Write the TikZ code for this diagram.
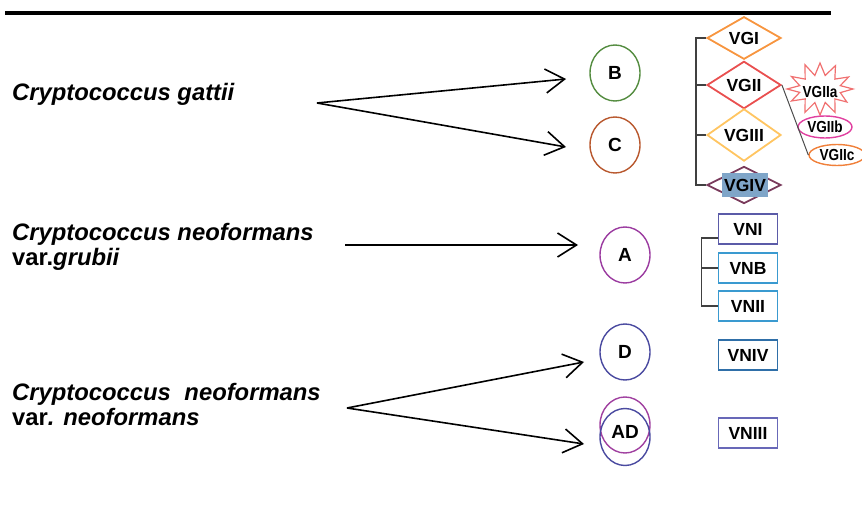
\documentclass[tikz,border=0pt]{standalone}
\usepackage{fontspec}
\setmainfont{Liberation Sans}
\newfontfamily\narrowsf[FakeStretch=0.85]{Liberation Sans}
\usetikzlibrary{shapes.geometric,arrows.meta}
\definecolor{cB}{RGB}{84,140,64}
\definecolor{cC}{RGB}{184,88,46}
\definecolor{cA}{RGB}{155,59,160}
\definecolor{cD}{RGB}{74,74,160}
\definecolor{cADp}{RGB}{160,64,160}
\definecolor{cVGI}{RGB}{247,149,63}
\definecolor{cVGII}{RGB}{233,79,79}
\definecolor{cVGIII}{RGB}{255,197,97}
\definecolor{cVGIV}{RGB}{122,59,92}
\definecolor{cHL}{RGB}{127,165,200}
\definecolor{cStar}{RGB}{240,112,112}
\definecolor{cVGIIb}{RGB}{224,64,160}
\definecolor{cVGIIc}{RGB}{240,128,58}
\definecolor{cVNI}{RGB}{91,91,168}
\definecolor{cVNB}{RGB}{58,154,208}
\definecolor{cVNIV}{RGB}{47,111,168}
\definecolor{cVNIII}{RGB}{104,104,184}
\begin{document}
\begin{tikzpicture}[x=1pt,y=-1pt,
  spec/.style={font=\fontsize{23.8}{28}\selectfont\bfseries\itshape, anchor=base west, inner sep=0pt},
  lab/.style={font=\fontsize{17.5}{20}\selectfont\bfseries},
  grp/.style={ellipse, draw, line width=1.4pt, minimum width=50pt, minimum height=56pt, inner sep=0pt, font=\fontsize{19}{22}\selectfont\bfseries},
  vg/.style={diamond, draw, line width=1.8pt, minimum width=74pt, minimum height=37pt, inner sep=0pt, lab},
  vn/.style={rectangle, draw, line width=1.6pt, minimum width=59pt, minimum height=30pt, inner sep=0pt, lab},
  sub/.style={font=\fontsize{16}{18}\narrowsf\bfseries},
  arr/.style={-{Straight Barb[length=19pt,width=24pt]}, line width=1.6pt},
  br/.style={line width=1.3pt, draw=black!75}
]
\useasboundingbox (0,0) rectangle (862,526);
\draw[line width=4.3pt] (5,13) -- (831,13);

% species labels
\node[spec] (tg) at (12,101) {Cryptococcus gattii};
\node[spec] (tn1) at (12,241) {Cryptococcus neoformans};
\node[spec] (tn2) at (12,266) {{\upshape var.}grubii};
\node[spec] (tn3) at (12,400) {Cryptococcus\hspace{7pt} neoformans};
\node[spec] (tn4) at (12,425) {{\upshape var}. neoformans};

% serotypes
\node[grp, draw=cB] (B) at (615,73) {B};
\node[grp, draw=cC] (C) at (615,145) {C};
\node[grp, draw=cA] (A) at (625,255) {A};
\node[grp, draw=cD] (D) at (625,352) {D};
\node[grp, draw=cADp] (AD1) at (625,425) {};
\node[grp, draw=cD, minimum height=57pt] (AD2) at (625,437) {};
\node[font=\fontsize{19}{22}\selectfont\bfseries] (ADt) at (625,432) {AD};

% VG diamonds
\node[vg, draw=cVGI] (VGI) at (744,38) {VGI};
\node[vg, draw=cVGII] (VGII) at (744,85) {VGII};
\node[vg, draw=cVGIII] (VGIII) at (744,135) {VGIII};
\node[vg, draw=cVGIV] (VGIV) at (744,185) {};
\node[lab, fill=cHL, minimum width=46pt, minimum height=24pt, inner sep=0pt] (VGIVt) at (745,185) {VGIV};

% VGII subtypes
\begin{scope}[shift={(820,89)}]
\draw[cStar, line width=1.2pt] (33,0)
  \foreach \a/\rx/\ry in {15/21/14,30/31/26,45/21/14,60/30/27,75/20/14,90/28/26,105/20/14,120/30/27,135/21/14,150/33/24,165/21/13,180/33/22,195/21/13,210/33/25,225/21/14,240/30/28,255/20/14,270/27/26,285/20/14,300/31/27,315/21/14,330/33/24,345/21/13}
  { -- ({\rx*cos(\a)},{\ry*sin(\a)}) } -- cycle;
\end{scope}
\node[sub] (VGIIa) at (820,92) {VGIIa};
\node[sub, ellipse, draw=cVGIIb, line width=1.4pt, minimum width=54pt, minimum height=22pt, inner sep=0pt] (VGIIb) at (825,127) {VGIIb};
\node[sub, ellipse, draw=cVGIIc, line width=1.4pt, minimum width=56pt, minimum height=21pt, inner sep=0pt] (VGIIc) at (837,155) {VGIIc};
\draw[line width=1pt, black!70] (VGII.east) -- (VGIIc.west);

% VN boxes
\node[vn, draw=cVNI] (VNI) at (748,229) {VNI};
\node[vn, draw=cVNB] (VNB) at (748,268) {VNB};
\node[vn, draw=cVNB] (VNII) at (748,306) {VNII};
\node[vn, draw=cVNIV] (VNIV) at (748,355) {VNIV};
\node[vn, draw=cVNIII] (VNIII) at (748,433) {VNIII};

% brackets
\draw[br] (VGI.west) -- ++(-10,0) |- (VGIV.west);
\draw[br] (VGII.west) -- ++(-10,0);
\draw[br] (VGIII.west) -- ++(-10,0);
\draw[br] ([yshift=-9pt]VNI.west) -- ++(-16,0) |- (VNII.west);
\draw[br] (VNB.west) -- ++(-16,0);

% arrows
\coordinate (sg) at (317,103);
\coordinate (eB) at (566,79);
\coordinate (eC) at (566,147);
\coordinate (sa) at (345,245);
\coordinate (eA) at (578,245);
\coordinate (sn) at (347,408);
\coordinate (eD) at (584,362);
\coordinate (eAD) at (584,444);
\draw[arr] (sg) -- (eB);
\draw[arr] (sg) -- (eC);
\draw[arr] (sa) -- (eA);
\draw[arr] (sn) -- (eD);
\draw[arr] (sn) -- (eAD);
\end{tikzpicture}
\end{document}
